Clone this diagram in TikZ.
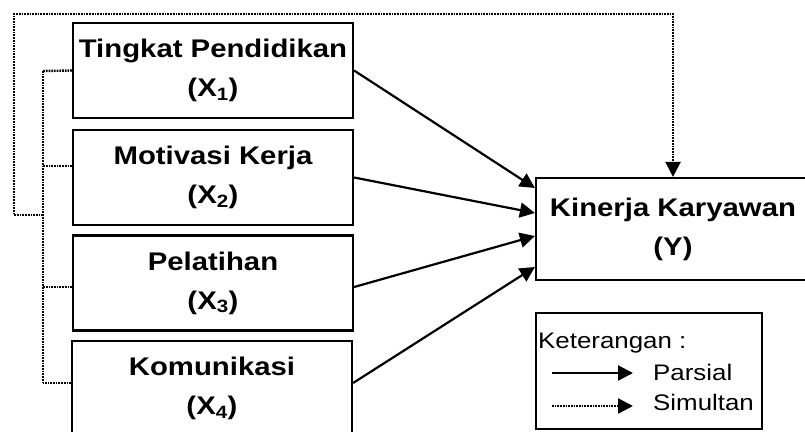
\documentclass[tikz,border=0pt]{standalone}
\usepackage{fontspec}
\setmainfont{Liberation Sans}[FakeStretch=1.15]
\usetikzlibrary{arrows.meta}
\begin{document}
\begin{tikzpicture}[x=1pt,y=-1pt,
  varbox/.style={draw,line width=2.2pt,minimum width=280pt,minimum height=95pt,
    align=center,inner sep=0pt,font=\fontsize{25.5}{39}\selectfont\bfseries},
  parsial/.style={line width=2.2pt,-{Triangle[length=15pt,width=15pt]}},
  simul/.style={line width=2.4pt,dash pattern=on 1.7pt off 1pt},
  simularrow/.style={simul,-{Triangle[length=15pt,width=15pt]}},
  legtext/.style={anchor=base west,inner sep=0pt,font=\fontsize{22.5}{27}\selectfont}
]
\useasboundingbox (0,0) rectangle (805,431);

\node[varbox] (X1) at (213,70.5) {Tingkat Pendidikan\\(X\textsubscript{1})};
\node[varbox] (X2) at (213,177.5) {Motivasi Kerja\\(X\textsubscript{2})};
\node[varbox] (X3) at (213,283) {Pelatihan\\(X\textsubscript{3})};
\node[varbox] (X4) at (212,388.5) {Komunikasi\\(X\textsubscript{4})};
\node[varbox,minimum width=274pt,minimum height=102pt] (Y) at (673,229) {Kinerja Karyawan\\(Y)};

% partial arrows
\draw[parsial] (X1.east) -- ([yshift=41pt]Y.west);
\draw[parsial] (X2.east) -- ([yshift=16pt]Y.west);
\draw[parsial] ([yshift=-4pt]X3.east) -- ([yshift=-7pt]Y.west);
\draw[parsial] ([yshift=5.5pt]X4.east) -- ([yshift=-38pt]Y.west);

% simultaneous
\coordinate (b1) at (43,71);
\coordinate (b2) at (43,166);
\coordinate (b3) at (43,287);
\coordinate (b4) at (43,383);
\coordinate (b5) at (43,215);
\coordinate (c1) at (14,215);
\coordinate (c2) at (14,14);
\draw[simul] (X1.west) -- (b1);
\draw[simul] ([yshift=11.5pt]X2.west) -- (b2);
\draw[simul] ([yshift=-4pt]X3.west) -- (b3);
\draw[simul] ([yshift=5.5pt]X4.west) -- (b4);
\draw[simul] (b1) -- (b4);
\draw[simularrow] (b5) -- (c1) -- (c2) -| (Y.north);

% legend
\node[draw,line width=2.2pt,minimum width=226pt,minimum height=116pt,inner sep=0pt] (L) at (649,371) {};
\node[legtext] (k) at (538,348) {Keterangan :};
\node[legtext] (p) at (653,380) {Parsial};
\node[legtext] (s) at (653,410) {Simultan};
\coordinate (l1a) at (552,373);
\coordinate (l1b) at (633,373);
\coordinate (l2a) at (552,406);
\coordinate (l2b) at (633,406);
\draw[parsial] (l1a) -- (l1b);
\draw[simularrow] (l2a) -- (l2b);
\end{tikzpicture}
\end{document}
